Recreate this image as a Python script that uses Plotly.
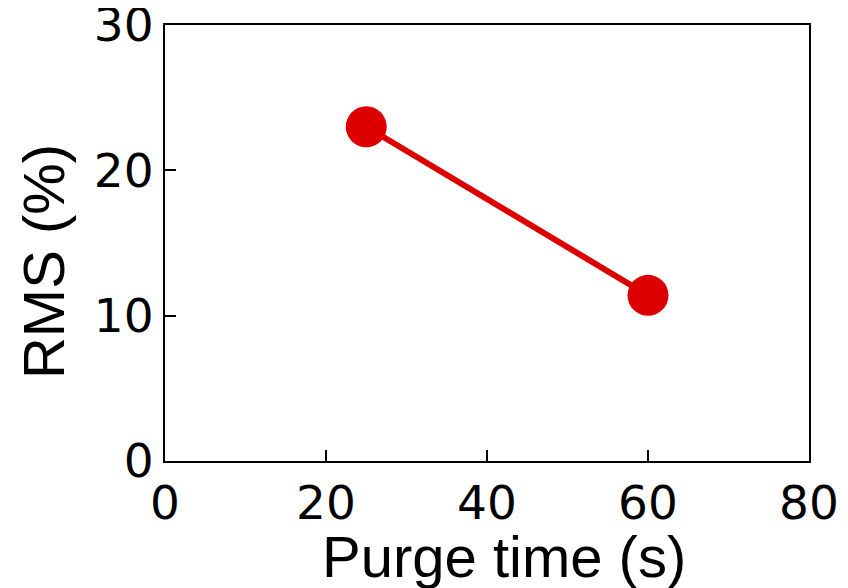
import plotly.graph_objects as go

purge_time = [25, 60]
rms = [23.0, 11.4]
x_ticks = [0, 20, 40, 60, 80]
y_ticks = [0, 10, 20, 30]
x_title = "Purge time (s)"
y_title = "RMS (%)"

fig = go.Figure()
fig.add_trace(go.Scatter(
    x=purge_time, y=rms, mode="lines+markers",
    line=dict(color="rgb(221,0,0)", width=6),
    marker=dict(color="rgb(221,0,0)", size=41),
    showlegend=False, cliponaxis=False,
))

axis_common = dict(
    showline=True, linecolor="black", linewidth=2, mirror=True,
    ticks="inside", ticklen=11, tickwidth=2, tickcolor="black",
    showgrid=False, zeroline=False, automargin=False,
    ticklabeloverflow="allow",
    tickfont=dict(family="DejaVu Sans", size=47, color="black"),
)

title_font = dict(family="Liberation Sans, Arial", size=58, color="black")

fig.update_layout(
    width=848, height=588,
    margin=dict(l=157, r=47, t=17, b=135),
    plot_bgcolor="white", paper_bgcolor="white",
    xaxis=dict(range=[0, 80], tickvals=x_ticks, **axis_common),
    yaxis=dict(range=[0, 30], tickvals=y_ticks, **axis_common),
    annotations=[
        dict(text=x_title, xref="paper", yref="paper", x=0.5264, y=-0.2179,
             xanchor="center", yanchor="middle", showarrow=False, font=title_font),
        dict(text=y_title, xref="paper", yref="paper", x=-0.1894, y=0.4564,
             xanchor="center", yanchor="middle", showarrow=False, textangle=-90, font=title_font),
    ],
)

fig.write_html("out.html")
